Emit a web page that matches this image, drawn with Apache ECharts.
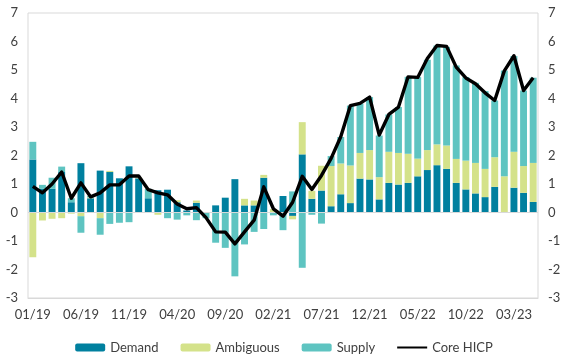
<!DOCTYPE html>
<html><head><meta charset="utf-8">
<script src="https://cdn.jsdelivr.net/npm/echarts@6/dist/echarts.min.js"></script>
<style>html,body{margin:0;padding:0;background:#fff}#c{width:568px;height:363px}</style>
</head><body><div id="c"></div>
<script>
const months = ["01/19","02/19","03/19","04/19","05/19","06/19","07/19","08/19","09/19","10/19","11/19","12/19",
"01/20","02/20","03/20","04/20","05/20","06/20","07/20","08/20","09/20","10/20","11/20","12/20",
"01/21","02/21","03/21","04/21","05/21","06/21","07/21","08/21","09/21","10/21","11/21","12/21",
"01/22","02/22","03/22","04/22","05/22","06/22","07/22","08/22","09/22","10/22","11/22","12/22",
"01/23","02/23","03/23","04/23","05/23"];
const demand = [1.86,0.83,0.83,1.42,0.36,1.73,0.50,1.47,1.42,1.20,1.62,1.20,
0.50,0.78,0.80,0.36,0.07,0.34,0.00,0.25,0.52,1.17,0.25,0.25,
1.22,0.00,0.58,-0.12,2.04,0.48,0.77,0.22,0.64,0.33,1.19,1.16,
0.46,1.04,0.98,1.04,1.27,1.49,1.66,1.53,1.04,0.81,0.67,0.54,
0.90,0.00,0.87,0.69,0.37];
const ambiguous = [-1.57,-0.28,-0.22,-0.20,-0.04,-0.13,0.03,-0.20,0.04,0.00,0.00,0.03,
0.00,-0.08,0.00,0.07,0.00,0.08,0.00,0.00,0.00,0.00,0.23,0.17,
0.10,0.12,0.00,-0.12,1.13,0.28,0.87,1.41,1.08,1.32,0.90,1.03,
0.78,1.09,1.11,1.02,0.62,0.70,0.73,0.82,0.84,1.01,1.07,0.99,
1.04,1.27,1.26,0.94,1.37];
const supply = [0.62,0.14,0.39,0.19,0.14,-0.58,0.05,-0.58,-0.40,-0.36,-0.34,0.00,
0.33,0.00,-0.20,-0.25,-0.10,-0.27,-0.20,-1.06,-1.24,-2.24,-1.12,-0.68,
-0.58,-0.10,-0.62,0.74,-1.94,-0.08,-0.39,0.35,0.93,2.10,1.73,1.86,
1.46,1.31,1.61,2.70,2.86,3.17,3.47,3.46,3.28,2.93,2.81,2.73,
1.99,3.71,3.36,2.65,2.99];
const coreHICP = [0.92,0.69,1.00,1.42,0.50,1.04,0.55,0.69,0.97,0.97,1.28,1.28,
0.80,0.69,0.62,0.30,0.13,0.17,-0.18,-0.68,-0.69,-1.10,-0.68,-0.27,
0.90,0.13,-0.13,0.36,1.27,0.81,1.30,1.90,2.66,3.75,3.83,4.05,
2.72,3.44,3.70,4.76,4.74,5.40,5.86,5.83,5.10,4.72,4.52,4.20,
3.93,4.97,5.50,4.28,4.73];
const yTicks = {min:-3, max:7, interval:1};

const chart = echarts.init(document.getElementById('c'), null, {renderer:'canvas'});
const font = 'Lato';
const txt = '#404040';
const yAx = (pos) => ({
  type:'value', position:pos, min:yTicks.min, max:yTicks.max, interval:yTicks.interval,
  axisLine:{show:false}, axisTick:{show:false}, splitLine:{show:false},
  axisLabel:{color:txt, fontFamily:font, fontSize:13, margin:10}
});
chart.setOption({
  animation:false,
  grid:{left:28, right:30, top:13, bottom:65, show:true, borderColor:'#d9d9d9', borderWidth:1, containLabel:false},
  legend:{bottom:4, left:'center', itemWidth:30, itemHeight:8, itemGap:22,
    textStyle:{color:txt, fontFamily:font, fontSize:13},
    data:['Demand','Ambiguous','Supply',{name:'Core HICP', icon:'path://M0,0 L30,0 L30,2 L0,2 Z'}]},
  xAxis:{type:'category', data:months, boundaryGap:true,
    axisLine:{show:true, onZero:false, lineStyle:{color:'#d9d9d9'}}, axisTick:{show:false},
    axisLabel:{interval:4, color:txt, fontFamily:font, fontSize:13, margin:10}},
  yAxis:[yAx('left'), yAx('right')],
  series:[
    {name:'Demand', type:'bar', stack:'s', data:demand, barWidth:'72%', itemStyle:{color:'#00809f'},
      markLine:{silent:true, symbol:'none', label:{show:false}, lineStyle:{color:'#d9d9d9', width:1, type:'solid'}, data:[{yAxis:0}]}},
    {name:'Ambiguous', type:'bar', stack:'s', data:ambiguous, itemStyle:{color:'#d4e28a'}},
    {name:'Supply', type:'bar', stack:'s', data:supply, itemStyle:{color:'#5ec4c1'}},
    {name:'Core HICP', type:'line', data:coreHICP, symbol:'none', z:5,
      lineStyle:{color:'#000', width:3.4, join:'round'}, itemStyle:{color:'#000'}}
  ]
});
</script></body></html>
